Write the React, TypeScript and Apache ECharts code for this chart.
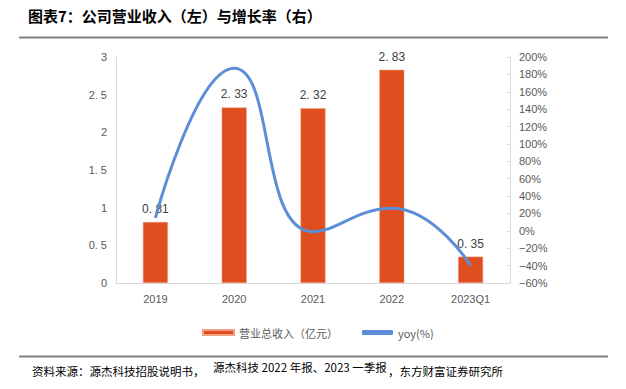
import React, { useEffect, useRef } from "react";
import * as echarts from "echarts";

const categories = ["2019", "2020", "2021", "2022", "2023Q1"];
const revenue = [0.81, 2.33, 2.32, 2.83, 0.35];
const yoy = [15, 187, -1, 26, -40];

const titleText = "图表7：公司营业收入（左）与增长率（右）";
const revenueName = "营业总收入（亿元）";
const yoyName = "yoy(%)";

const CJK = "'Noto Sans CJK SC', 'Noto Sans', sans-serif";
const NUM = "'Liberation Sans', Arial, sans-serif";

export default function App() {
  const ref = useRef<HTMLDivElement>(null);
  useEffect(() => {
    if (!ref.current) return;
    const chart = echarts.init(ref.current, undefined, { renderer: "svg" });
    chart.setOption({
      animation: false,
      backgroundColor: "#ffffff",
      grid: { left: 116, right: 116, top: 57, bottom: 106 },
      legend: {
        data: [
          { name: revenueName, icon: "rect" },
          { name: yoyName, icon: "roundRect" },
        ],
        left: 197,
        top: 322,
        itemWidth: 31,
        itemHeight: 5,
        itemGap: 24,
        textStyle: { color: "#595959", fontSize: 11, fontFamily: CJK },
      },
      xAxis: {
        type: "category",
        data: categories,
        axisLine: { show: true, lineStyle: { color: "#D9D9D9", width: 1 } },
        axisTick: { show: false },
        axisLabel: { color: "#595959", fontSize: 11, fontFamily: NUM, margin: 10 },
      },
      yAxis: [
        {
          type: "value",
          min: 0,
          max: 3,
          interval: 0.5,
          splitLine: { show: false },
          axisLine: { show: true, lineStyle: { color: "#D9D9D9" } },
          axisTick: { show: false },
          axisLabel: {
            color: "#595959",
            fontSize: 11,
            fontFamily: NUM,
            margin: 9,
            formatter: (v: number) => String(v).replace(".", ". "),
          },
        },
        {
          type: "value",
          min: -60,
          max: 200,
          interval: 20,
          position: "right",
          splitLine: { show: false },
          axisLine: { show: true, lineStyle: { color: "#D9D9D9" } },
          axisTick: { show: true, inside: true, length: 3, lineStyle: { color: "#D9D9D9" } },
          axisLabel: {
            color: "#595959",
            fontSize: 11,
            fontFamily: NUM,
            margin: 9,
            formatter: (v: number) => (v < 0 ? "−" + Math.abs(v) : String(v)) + "%",
          },
        },
      ],
      series: [
        {
          name: revenueName,
          type: "bar",
          data: revenue,
          barWidth: 25,
          itemStyle: { color: "#DF4E1E", borderColor: "#F0A080", borderWidth: 0.5 },
          label: {
            show: true,
            position: "top",
            distance: 7,
            color: "#404040",
            fontSize: 12,
            fontFamily: NUM,
            formatter: (p: any) => String(p.value).replace(".", ". "),
          },
          z: 2,
        },
        {
          name: yoyName,
          type: "line",
          yAxisIndex: 1,
          data: yoy,
          smooth: 0.5,
          showSymbol: false,
          symbol: "none",
          lineStyle: { color: "#5B8ED6", width: 3 },
          itemStyle: { color: "#5B8ED6" },
          z: 3,
        },
      ],
      graphic: [
        {
          type: "text",
          left: 28,
          top: 8,
          style: {
            text: titleText,
            font: `bold 15px ${CJK}`,
            fill: "#000000",
          },
        },
        {
          type: "line",
          shape: { x1: 19, y1: 37.5, x2: 608, y2: 37.5 },
          style: { stroke: "#808080", lineWidth: 2 },
        },
        {
          type: "line",
          shape: { x1: 19, y1: 356.5, x2: 608, y2: 356.5 },
          style: { stroke: "#808080", lineWidth: 2 },
        },
        {
          type: "text",
          left: 32,
          top: 365,
          style: { text: "资料来源：源杰科技招股说明书，", font: `11.5px ${CJK}`, fill: "#000000" },
        },
        {
          type: "text",
          left: 213,
          top: 361,
          style: { text: "源杰科技 2022 年报、2023 一季报", font: `11.5px ${CJK}`, fill: "#000000" },
        },
        {
          type: "text",
          left: 388,
          top: 365,
          style: { text: "，东方财富证券研究所", font: `11.5px ${CJK}`, fill: "#000000" },
        },
      ],
    });
    return () => chart.dispose();
  }, []);
  return (
    <div
      ref={ref}
      style={{ width: 626, height: 389, position: "absolute", left: 0, top: 0 }}
    />
  );
}
